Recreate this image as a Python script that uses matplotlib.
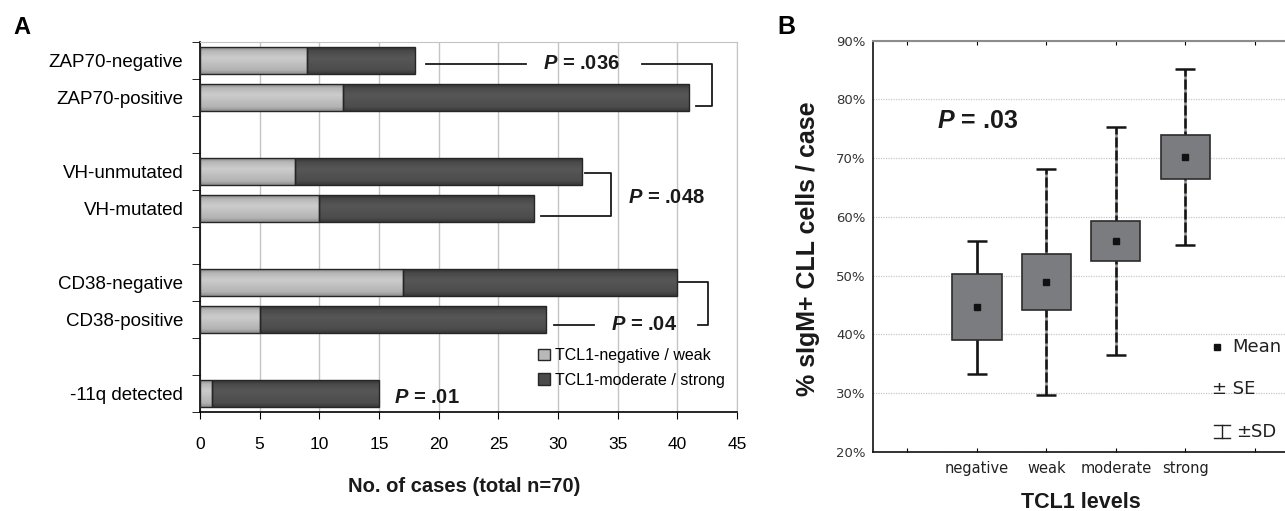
import numpy as np
import matplotlib
matplotlib.use('Agg')
from matplotlib import pyplot as plt
from matplotlib.patches import Patch

plt.rcParams['font.family'] = ['Liberation Sans', 'DejaVu Sans']
plt.rcParams['mathtext.fontset'] = 'custom'
plt.rcParams['mathtext.it'] = 'Liberation Sans:italic:bold'
plt.rcParams['mathtext.rm'] = 'Liberation Sans:bold'

# panel A: TCL1 groups per prognostic marker
labels_a = ["ZAP70-negative", "ZAP70-positive", "VH-unmutated", "VH-mutated",
            "CD38-negative", "CD38-positive", "-11q detected"]
group_a = [0, 0, 1, 1, 2, 2, 3]
neg_weak = [9, 12, 8, 10, 17, 5, 1]
mod_strong = [9, 29, 24, 18, 23, 24, 14]
p_values_a = [".036", ".048", ".04", ".01"]

# panel B: % sIgM+ cells by TCL1 level (mean, SE, SD)
levels = ["negative", "weak", "moderate", "strong"]
mean_b = [44.6, 48.9, 55.9, 70.2]
se_b = [5.6, 4.7, 3.45, 3.75]
sd_b = [11.3, 19.2, 19.45, 15.0]
p_value_b = ".03"

W, H = 1285, 511
fig = plt.figure(figsize=(W / 100, H / 100), dpi=100)


def fx(px):
    return px / W


def fy(py):
    return 1 - py / H


# ---------------- panel A ----------------
ax = fig.add_axes([fx(200), fy(412), fx(537), (412 - 41.7) / H])
pos = np.arange(len(labels_a)) + np.array(group_a)
neg_weak = np.array(neg_weak)
mod_strong = np.array(mod_strong)
bh = 0.72

b1 = ax.barh(pos, neg_weak, height=bh, color='#b8b8b8', zorder=2)
b2 = ax.barh(pos, mod_strong, left=neg_weak, height=bh, color='#4b4b4d', zorder=2)


def shade(bars, stops):
    # soft cylinder-like shading clipped to each bar
    t = np.linspace(0, 1, 60)
    g = np.interp(t, [0, 0.15, 0.4, 0.85, 1], stops)
    img = np.repeat(g[:, None], 2, axis=1)
    for r in bars:
        x0, y0 = r.get_x(), r.get_y()
        w, h = r.get_width(), r.get_height()
        im = ax.imshow(img, cmap='gray', vmin=0, vmax=1, aspect='auto',
                       extent=(x0, x0 + w, y0 + h, y0), zorder=2.5,
                       interpolation='bilinear')
        im.set_clip_path(r)


shade(b1, [0.55, 0.72, 0.80, 0.70, 0.56])
shade(b2, [0.20, 0.29, 0.34, 0.30, 0.22])
ax.barh(pos, neg_weak, height=bh, fill=False, edgecolor='#262626', lw=1, zorder=3)
ax.barh(pos, mod_strong, left=neg_weak, height=bh, fill=False,
        edgecolor='#262626', lw=1, zorder=3)

ax.set_xlim(0, 45)
ax.set_ylim(9.5, -0.5)
ax.set_xticks(np.arange(0, 46, 5))
ax.tick_params(axis='x', length=5, pad=13, labelsize=12.5, color='black')
ax.set_yticks(pos)
ax.set_yticklabels(labels_a)
ax.tick_params(axis='y', which='major', length=0, pad=12, labelsize=13.5)
ax.set_yticks(np.arange(-0.5, 10, 1), minor=True)
ax.tick_params(axis='y', which='minor', length=6, color='black')
ax.xaxis.grid(True, color='#c4c4c4', lw=1)
ax.set_axisbelow(True)
for s in ['top', 'right']:
    ax.spines[s].set_color('#c4c4c4')
for s in ['left', 'bottom']:
    ax.spines[s].set_color('black')
    ax.spines[s].set_linewidth(1.2)

# significance brackets
lk = dict(color='#1a1a1a', lw=1.3, zorder=4)
ax.plot([18.9, 27.3], [0.1, 0.1], **lk)
ax.plot([37.0, 42.9, 42.9, 41.6], [0.1, 0.1, 1.24, 1.24], **lk)
ax.plot([32.3, 34.4, 34.4, 28.6], [3.05, 3.05, 4.22, 4.22], **lk)
ax.plot([40.1, 42.6, 42.6, 41.7], [5.99, 5.99, 7.15, 7.15], **lk)
ax.plot([29.7, 33.0], [7.15, 7.15], **lk)
pk = dict(fontsize=14.5, fontweight='bold', ha='center', va='center', zorder=5,
          color='#1a1a1a')
ax.text(32.0, 0.1, r"$P$ = " + p_values_a[0], **pk)
ax.text(39.1, 3.72, r"$P$ = " + p_values_a[1], **pk)
ax.text(37.2, 7.15, r"$P$ = " + p_values_a[2], **pk)
ax.text(19.0, 9.1, r"$P$ = " + p_values_a[3], **pk)

handles = [Patch(facecolor='#b8b8b8', edgecolor='#262626'),
           Patch(facecolor='#4b4b4d', edgecolor='#262626')]
fig.legend(handles, ["TCL1-negative / weak", "TCL1-moderate / strong"],
           loc='upper left', bbox_to_anchor=(fx(538), fy(348)), frameon=False,
           fontsize=11.5, handlelength=0.75, handleheight=0.75,
           handletextpad=0.3, labelspacing=0.6, borderpad=0, borderaxespad=0)

fig.text(fx(464), fy(486), "No. of cases (total n=70)", fontsize=14.5,
         fontweight='bold', ha='center', va='center', color='#1a1a1a')
fig.text(fx(22), fy(28), "A", fontsize=17, fontweight='bold', ha='center',
         va='center')

# ---------------- panel B ----------------
bx = fig.add_axes([fx(872.7), fy(451.7), fx(416.8), (451.7 - 40.7) / H])
xb = np.arange(2, 2 + len(levels))
mean_b = np.array(mean_b)
se_b = np.array(se_b)
sd_b = np.array(sd_b)

bx.vlines(xb, mean_b - sd_b, mean_b + sd_b, color='#8a8a8a', lw=1.8, zorder=1.8)
eb = bx.errorbar(xb, mean_b, yerr=sd_b, fmt='none', ecolor='#151515',
                 elinewidth=1.8, capsize=7.5, capthick=1.8, zorder=2)
eb[2][0].set_linestyles(['-', (0, (4, 1.2)), (0, (4, 1.2)), (0, (4, 1.2))])
bx.bar(xb, 2 * se_b, bottom=mean_b - se_b, width=0.71, color='#7b7c7f',
       edgecolor='#2b2b2b', lw=1.2, zorder=3)
bx.plot(xb, mean_b, 's', color='#111111', ms=5, zorder=4)

bx.set_xlim(0.5, 6.5)
bx.set_ylim(20, 90)
bx.set_xticks(np.arange(1, 7))
bx.set_xticklabels([""] + levels + [""], fontsize=10.5,
                   family=['DejaVu Sans'], color='#222222')
bx.set_yticks(np.arange(20, 91, 10))
bx.set_yticklabels([f"{v}%" for v in range(20, 91, 10)], fontsize=9.5,
                   family=['DejaVu Sans'], color='#333333')
bx.tick_params(axis='x', direction='in', length=3, top=True, pad=7)
bx.tick_params(axis='y', direction='in', length=0, pad=5)
bx.yaxis.grid(True, color='#c8c8c8', linestyle=(0, (1, 1)), lw=0.9)
bx.set_axisbelow(True)
bx.spines['right'].set_visible(False)
bx.spines['top'].set_color('#8c8c8c')
bx.spines['top'].set_linewidth(1.5)
for s in ['left', 'bottom']:
    bx.spines[s].set_color('#111111')
    bx.spines[s].set_linewidth(1.2)

bx.text(fx(937 - 872.7) * W / 416.8, 1 - (121 - 40.7) / 411, r"$P$ = " + p_value_b,
        transform=bx.transAxes, fontsize=18, fontweight='bold', ha='left',
        va='center', color='#1a1a1a')

# legend of panel B drawn by hand
fig.lines.append(plt.Line2D([fx(1217)], [fy(346.7)], marker='s', ms=5,
                            color='#111111', transform=fig.transFigure))
lt = dict(fontsize=13, family=['DejaVu Sans'], va='center', color='#222222')
fig.text(fx(1232), fy(346.7), "Mean", **lt)
fig.text(fx(1212), fy(389), "± SE", **lt)
fig.text(fx(1236), fy(431.5), "±SD", **lt)
ik = dict(color='#222222', lw=1, transform=fig.transFigure)
fig.lines.append(plt.Line2D([fx(1221.5), fx(1221.5)], [fy(425), fy(437.5)], **ik))
fig.lines.append(plt.Line2D([fx(1213.5), fx(1229.5)], [fy(425), fy(425)], **ik))
fig.lines.append(plt.Line2D([fx(1213.5), fx(1229.5)], [fy(437.5), fy(437.5)], **ik))

fig.text(fx(808), fy(248.5), "% sIgM+ CLL cells / case", rotation=90,
         fontsize=18, fontweight='bold', ha='center', va='center',
         color='#1a1a1a')
fig.text(fx(1081), fy(502), "TCL1 levels", fontsize=15.5, fontweight='bold',
         ha='center', va='center', color='#1a1a1a')
fig.text(fx(786), fy(27), "B", fontsize=18, fontweight='bold', ha='center',
         va='center')

fig.savefig('out.png', dpi=100)
